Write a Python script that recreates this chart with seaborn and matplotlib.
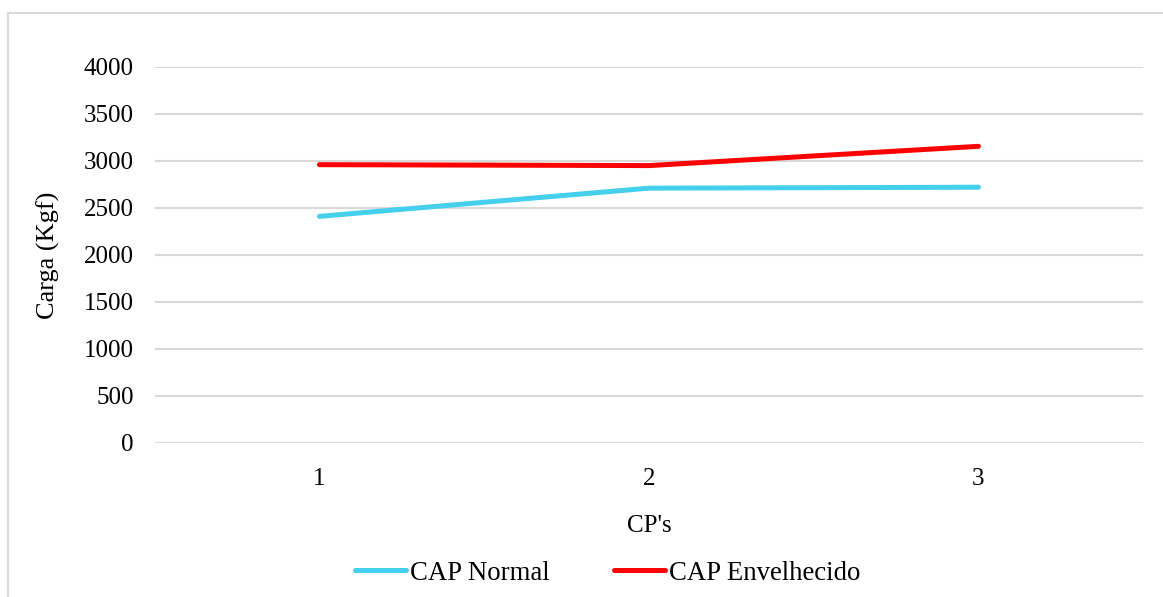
import pandas as pd
import seaborn as sns
import matplotlib.pyplot as plt
from matplotlib.patches import Rectangle

CPS = [1, 2, 3]
CAP_NORMAL = [2410, 2710, 2720]
CAP_ENVELHECIDO = [2960, 2950, 3155]
SERIES = ["CAP Normal", "CAP Envelhecido"]
PALETTE = {"CAP Normal": "#44CFEC", "CAP Envelhecido": "#FF0000"}
Y_TICKS = [0, 500, 1000, 1500, 2000, 2500, 3000, 3500, 4000]

FS = 18
LW = 3.6


def main():
    df = pd.DataFrame({
        "cp": CPS * 2,
        "carga": CAP_NORMAL + CAP_ENVELHECIDO,
        "serie": [SERIES[0]] * len(CPS) + [SERIES[1]] * len(CPS),
    })

    sns.set_theme(style="white")
    plt.rcParams["font.family"] = ["Liberation Serif", "DejaVu Serif"]
    plt.rcParams["text.color"] = "black"
    plt.rcParams["axes.labelcolor"] = "black"

    fig = plt.figure(figsize=(11.63, 5.97), dpi=100)
    ax = fig.add_axes([0.133, 0.258, 0.850, 0.630])

    sns.lineplot(
        data=df, x="cp", y="carga", hue="serie",
        hue_order=SERIES, palette=PALETTE,
        linewidth=LW, ax=ax, legend=False,
    )
    for line in ax.get_lines():
        line.set_solid_capstyle("round")
        line.set_solid_joinstyle("round")

    ax.set_xlim(0.5, 3.5)
    ax.set_ylim(0, 4000)
    ax.set_xticks(CPS)
    ax.set_xticklabels([str(c) for c in CPS])
    ax.set_yticks(Y_TICKS)
    ax.grid(axis="y", color="#d9d9d9", linewidth=1.5)
    ax.set_axisbelow(True)
    for side in ax.spines.values():
        side.set_visible(False)
    ax.tick_params(axis="both", length=0, labelsize=FS, colors="black")
    ax.tick_params(axis="x", pad=18)
    ax.tick_params(axis="y", pad=15)
    ax.set_xlabel("CP's", fontsize=FS, labelpad=18)
    ax.set_ylabel("Carga (Kgf)", fontsize=19, labelpad=17)

    handles = [plt.Line2D([], [], color=PALETTE[s], linewidth=LW,
                          solid_capstyle="round") for s in SERIES]
    fig.legend(handles, SERIES, loc="center", ncol=2, frameon=False,
               bbox_to_anchor=(608 / 1163, 1 - 573 / 597),
               fontsize=19.3, handlelength=1.9, handletextpad=0.15,
               columnspacing=2.4)

    # chart area border
    fig.patches.append(Rectangle((8 / 1163, -0.05), 1.1, 1.05 - 13 / 597,
                                 transform=fig.transFigure, fill=False,
                                 edgecolor="#d9d9d9", linewidth=1.5))

    fig.savefig("out.png", dpi=100)


if __name__ == "__main__":
    main()
